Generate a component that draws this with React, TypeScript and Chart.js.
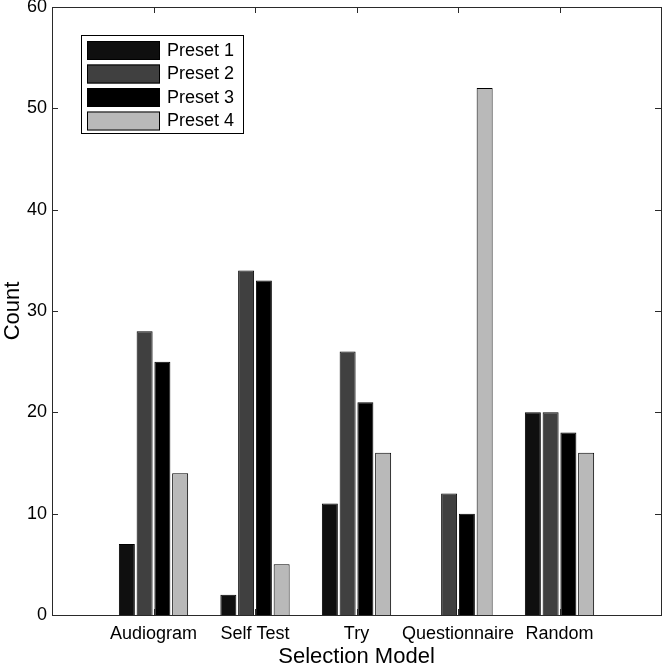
import { useEffect, useRef } from "react";
import { Chart, registerables } from "chart.js";

Chart.register(...registerables);

const categories = ["Audiogram", "Self Test", "Try", "Questionnaire", "Random"];
const preset1 = [7, 2, 11, 0, 20];
const preset2 = [28, 34, 26, 12, 20];
const preset3 = [25, 33, 21, 10, 18];
const preset4 = [14, 5, 16, 52, 16];
const seriesNames = ["Preset 1", "Preset 2", "Preset 3", "Preset 4"];
const seriesColors = ["#0f0f0f", "#404040", "#000000", "#b9b9b9"];
const yTicks = [0, 10, 20, 30, 40, 50, 60];

const FONT = "'Liberation Sans', Arial, sans-serif";
const AXIS = "#2a2a2a";

// frame, inward ticks and the in-plot legend box
const framePlugin = {
  id: "frame",
  afterDraw(chart: Chart) {
    const { ctx, chartArea: a } = chart;
    const x = chart.scales.x;
    const y = chart.scales.y;
    ctx.save();
    ctx.strokeStyle = AXIS;
    ctx.lineWidth = 1;
    ctx.strokeRect(a.left + 0.5, a.top + 0.5, a.right - a.left, a.bottom - a.top);
    ctx.beginPath();
    yTicks.forEach((v) => {
      const py = Math.round(y.getPixelForValue(v)) + 0.5;
      ctx.moveTo(a.left, py);
      ctx.lineTo(a.left + 6, py);
      ctx.moveTo(a.right, py);
      ctx.lineTo(a.right - 6, py);
    });
    categories.forEach((_, i) => {
      const px = Math.round(x.getPixelForValue(i + 1)) + 0.5;
      ctx.moveTo(px, a.bottom);
      ctx.lineTo(px, a.bottom - 6);
      ctx.moveTo(px, a.top);
      ctx.lineTo(px, a.top + 6);
    });
    ctx.stroke();

    // legend
    const lx = a.left + 29;
    const ly = a.top + 28;
    const w = 162;
    const h = 98;
    ctx.fillStyle = "#fff";
    ctx.fillRect(lx, ly, w, h);
    ctx.strokeStyle = "#000";
    ctx.strokeRect(lx + 0.5, ly + 0.5, w, h);
    ctx.font = `18px ${FONT}`;
    ctx.textBaseline = "middle";
    chart.data.datasets.forEach((ds, i) => {
      const ry = ly + 6 + i * 23.5;
      ctx.fillStyle = ds.backgroundColor as string;
      ctx.fillRect(lx + 6, ry, 73, 19);
      ctx.strokeStyle = "#000";
      ctx.strokeRect(lx + 6.5, ry + 0.5, 72, 18);
      ctx.fillStyle = "#000";
      ctx.fillText(ds.label as string, lx + 86, ry + 10);
    });
    ctx.restore();
  },
};

export default function App() {
  const canvasRef = useRef<HTMLCanvasElement>(null);
  const chartRef = useRef<Chart | null>(null);

  useEffect(() => {
    document.body.style.margin = "0";
    if (!canvasRef.current) return;
    const series = [preset1, preset2, preset3, preset4];
    chartRef.current?.destroy();
    chartRef.current = new Chart(canvasRef.current, {
      type: "bar",
      data: {
        datasets: series.map((vals, i) => ({
          label: seriesNames[i],
          data: vals.map((v, j) => ({ x: j + 1, y: v })),
          backgroundColor: seriesColors[i],
          borderColor: "#000",
          borderWidth: 1,
          categoryPercentage: 0.7,
          barPercentage: 0.9,
        })),
      },
      options: {
        animation: false,
        responsive: false,
        layout: { padding: { top: 7, right: 3, left: 0, bottom: 0 } },
        plugins: { legend: { display: false }, tooltip: { enabled: false } },
        scales: {
          x: {
            type: "linear",
            min: 0,
            max: 6,
            offset: false,
            grid: { display: false, drawTicks: false, offset: false },
            border: { display: false },
            afterBuildTicks: (s: any) => {
              s.ticks = categories.map((_, i) => ({ value: i + 1 }));
            },
            afterFit: (s: any) => {
              s.height = 55;
              s.paddingLeft = 0;
              s.paddingRight = 0;
            },
            ticks: {
              padding: 8,
              color: "#000",
              font: { family: FONT, size: 18 },
              autoSkip: false,
              maxRotation: 0,
              callback: (v: any) => categories[Number(v) - 1] ?? "",
            },
            title: {
              display: true,
              text: "Selection Model",
              color: "#000",
              font: { family: FONT, size: 22 },
              padding: { top: 0, bottom: 0 },
            },
          },
          y: {
            min: 0,
            max: 60,
            grid: { display: false, drawTicks: false },
            border: { display: false },
            afterBuildTicks: (s: any) => {
              s.ticks = yTicks.map((v) => ({ value: v }));
            },
            afterFit: (s: any) => {
              s.width = 52;
              s.paddingTop = 0;
              s.paddingBottom = 0;
            },
            ticks: {
              padding: 5,
              color: "#000",
              font: { family: FONT, size: 18 },
            },
            title: {
              display: true,
              text: "Count",
              color: "#000",
              font: { family: FONT, size: 22 },
              padding: { top: 0, bottom: 0 },
            },
          },
        },
      },
      plugins: [framePlugin],
    });
    return () => {
      chartRef.current?.destroy();
      chartRef.current = null;
    };
  }, []);

  return (
    <div style={{ width: 664, height: 670, background: "#fff" }}>
      <canvas ref={canvasRef} width={664} height={670}></canvas>
    </div>
  );
}
